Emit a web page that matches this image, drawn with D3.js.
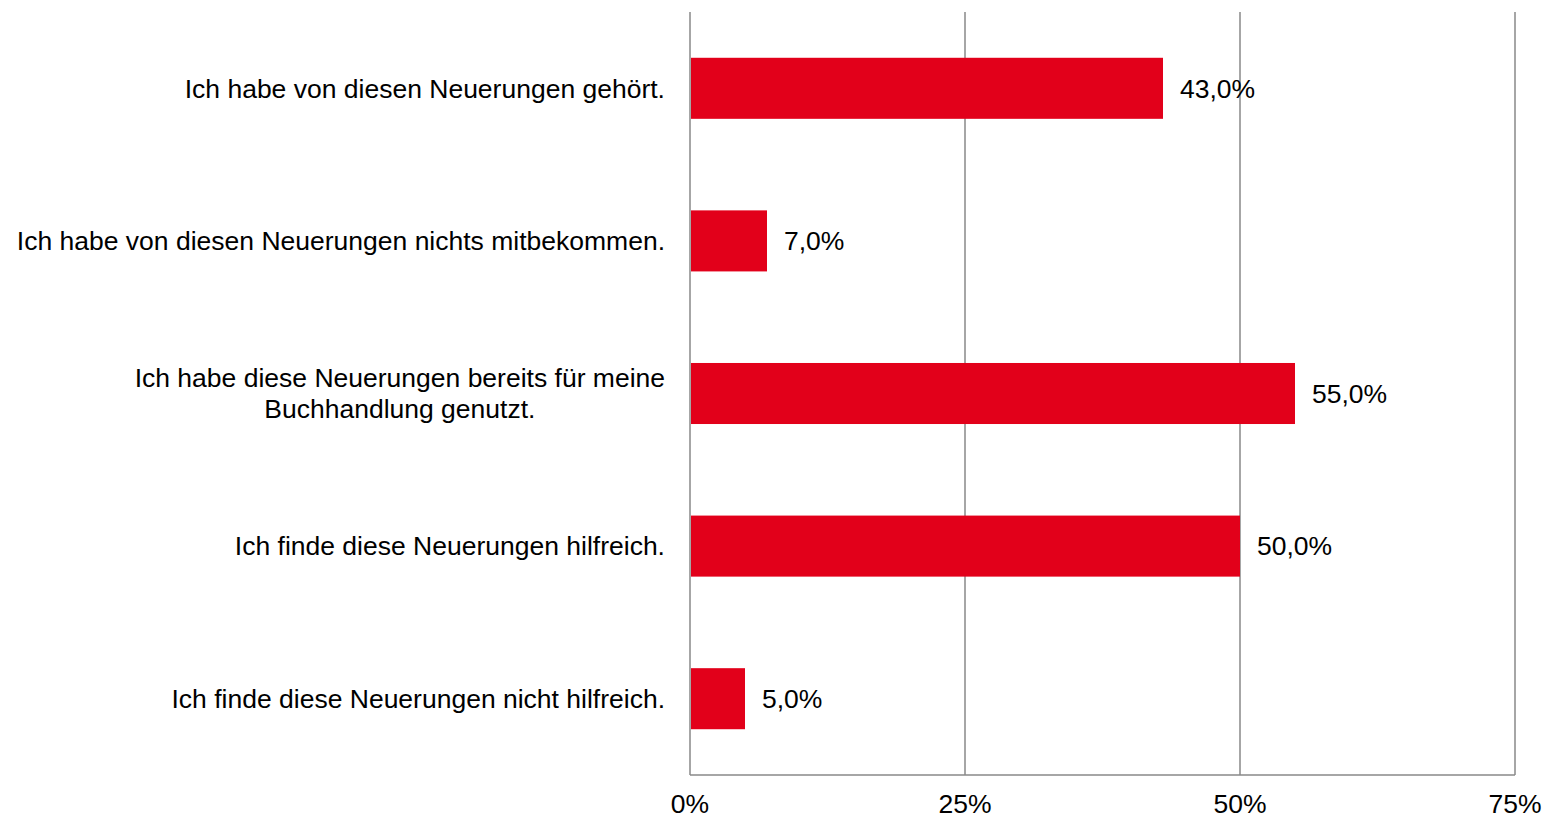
<!DOCTYPE html>
<html><head><meta charset="utf-8">
<script src="https://cdn.jsdelivr.net/npm/d3@7"></script>
<style>body{margin:0;background:#fff;} svg{display:block;}</style>
</head><body>
<svg id="chart" width="1546" height="819"></svg>
<script>
const categories = [
  ["Ich habe von diesen Neuerungen gehört."],
  ["Ich habe von diesen Neuerungen nichts mitbekommen."],
  ["Ich habe diese Neuerungen bereits für meine", "Buchhandlung genutzt."],
  ["Ich finde diese Neuerungen hilfreich."],
  ["Ich finde diese Neuerungen nicht hilfreich."]
];
const values = [43.0, 7.0, 55.0, 50.0, 5.0];
const tickValues = [0, 25, 50, 75];

const svg = d3.select("#chart");
const mLeft = 690, mRight = 1515, mTop = 12, mBottom = 775;
const font = "Liberation Sans, Arial, sans-serif";
const fs = 26.5;

const x = d3.scaleLinear().domain([0, 75]).range([mLeft, mRight]);
const y = d3.scaleBand().domain(d3.range(categories.length)).range([mTop, mBottom]).paddingInner(0.6).paddingOuter(0.3);

// gridlines
svg.append("g").selectAll("line").data(tickValues).join("line")
  .attr("x1", d => x(d)).attr("x2", d => x(d))
  .attr("y1", mTop).attr("y2", mBottom)
  .attr("stroke", "#898989").attr("stroke-width", 1.5);
// bottom axis line
svg.append("line").attr("x1", mLeft).attr("x2", mRight).attr("y1", mBottom).attr("y2", mBottom)
  .attr("stroke", "#898989").attr("stroke-width", 1.5);

// bars
svg.append("g").selectAll("rect").data(values).join("rect")
  .attr("x", x(0) + 1).attr("y", (d, i) => y(i))
  .attr("width", d => x(d) - x(0) - 1).attr("height", y.bandwidth())
  .attr("fill", "#E2001A");

// value labels
svg.append("g").selectAll("text").data(values).join("text")
  .attr("x", d => x(d) + 17).attr("y", (d, i) => y(i) + y.bandwidth() / 2)
  .attr("dy", "0.35em")
  .attr("font-family", font).attr("font-size", fs).attr("fill", "#000")
  .text(d => d.toFixed(1).replace(".", ",") + "%");

// category labels
const cat = svg.append("g").selectAll("text").data(categories).join("text")
  .attr("font-family", font).attr("font-size", fs).attr("fill", "#000")
  .attr("transform", (d, i) => `translate(${mLeft - 25},${y(i) + y.bandwidth() / 2})`);
cat.each(function(lines) {
  const t = d3.select(this);
  const lh = 31;
  const n = lines.length;
  const spans = lines.map((l, k) => t.append("tspan")
      .attr("y", (k - (n - 1) / 2) * lh).attr("dy", "0.35em").text(l));
  const maxW = d3.max(spans, s => s.node().getComputedTextLength());
  spans.forEach(s => s.attr("text-anchor", "middle").attr("x", -maxW / 2));
});

// tick labels
svg.append("g").selectAll("text").data(tickValues).join("text")
  .attr("x", d => x(d)).attr("y", 813)
  .attr("text-anchor", "middle")
  .attr("font-family", font).attr("font-size", fs).attr("fill", "#000")
  .text(d => d + "%");
</script>
</body></html>
